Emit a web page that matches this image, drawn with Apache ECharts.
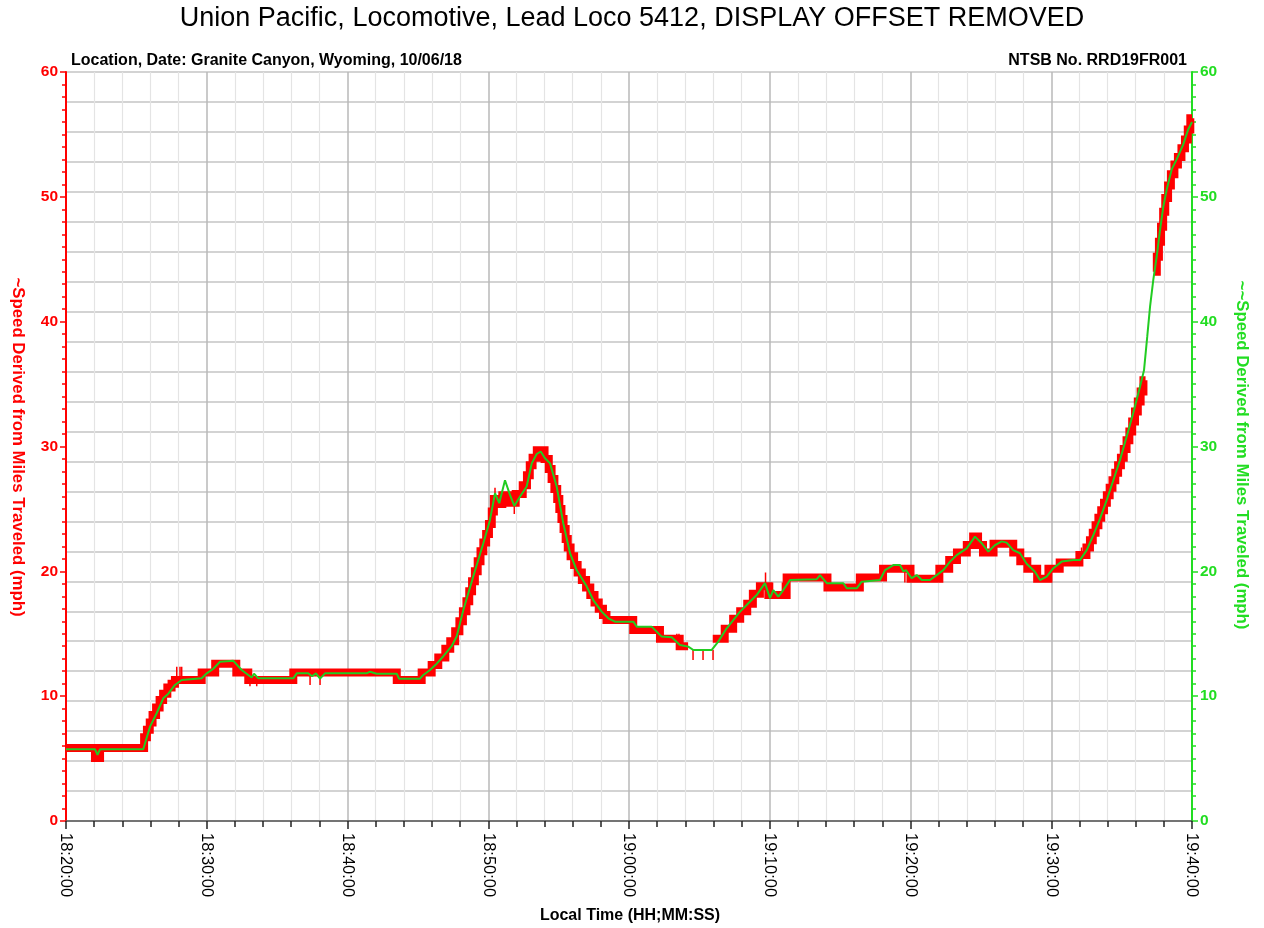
<!DOCTYPE html>
<html><head><meta charset="utf-8">
<script src="https://cdn.jsdelivr.net/npm/echarts@6/dist/echarts.min.js"></script>
<style>html,body{margin:0;padding:0;background:#fff}#c{width:1264px;height:928px}</style>
</head><body><div id="c"></div>
<script>
// Time axis: minutes after 18:20:00
const tickLabels = ['18:20:00','18:30:00','18:40:00','18:50:00','19:00:00','19:10:00','19:20:00','19:30:00','19:40:00'];

// Smoothed speed (green), minutes after 18:20 and mph
const greenT = [0,2.06,2.24,2.42,5.49,5.97,6.44,6.91,7.27,7.74,8.22,9.64,10.0,10.47,10.94,11.89,12.48,12.95,13.19,13.36,13.66,16.15,16.39,17.21,17.48,17.76,18.05,18.4,21.36,21.6,22.07,23.5,23.66,25.15,25.39,25.86,26.34,26.81,27.4,27.76,28.23,28.94,29.65,30.12,30.48,30.78,31.19,31.55,31.85,32.26,32.73,33.09,33.44,33.73,34.03,34.39,34.86,35.33,35.81,36.28,36.99,37.46,38.06,38.53,39.0,40.31,40.55,41.61,42.32,43.03,43.62,44.21,44.57,45.88,46.34,46.94,47.41,47.89,48.48,49.07,49.66,50.02,50.25,50.61,50.96,51.44,53.33,53.57,54.05,55.23,55.47,56.18,56.53,57.83,58.19,58.78,59.25,59.49,59.68,60.08,60.44,60.8,61.39,61.86,62.33,62.81,63.28,63.99,64.58,65.06,65.53,66.0,66.48,66.83,67.3,67.78,68.25,68.84,69.2,69.67,70.15,70.74,71.57,72.04,72.52,72.99,73.46,73.94,74.41,74.88,75.36,75.83,76.31,76.59,76.82,77.02,77.25,77.49,77.73,77.96,78.2,78.56,78.91,79.38,79.73,80.0];
const greenV = [5.75,5.75,5.3,5.75,5.75,7.56,8.63,9.83,10.2,10.9,11.3,11.43,11.83,12.2,12.76,12.83,12.1,11.7,11.5,11.8,11.43,11.43,11.83,11.83,11.6,11.83,11.4,11.83,11.83,11.96,11.8,11.8,11.4,11.4,11.7,12.1,12.6,13.2,14.0,14.8,16.9,19.6,22.25,24.1,26.26,25.46,27.3,26.1,25.24,26.0,26.8,28.65,29.4,29.6,29.06,28.65,26.8,23.85,21.45,20.1,18.8,17.7,16.77,16.24,15.97,15.97,15.57,15.57,14.77,14.72,14.1,13.97,13.7,13.7,14.37,15.44,16.1,16.77,17.44,18.1,19.05,17.85,18.5,17.97,18.5,19.3,19.36,19.7,19.05,19.05,18.64,18.64,19.17,19.3,20.1,20.5,20.5,20.0,20.1,19.45,19.7,19.3,19.3,19.7,20.1,20.78,21.3,21.84,22.78,22.25,21.58,22.1,22.4,22.3,21.7,21.45,20.6,19.97,19.3,19.57,20.25,20.78,20.9,20.9,21.7,22.9,24.2,25.7,27.3,28.9,30.8,32.7,34.8,36.1,38.8,41.2,43.35,45.2,47.36,49.2,50.56,52.2,53.0,54.2,55.4,56.0];

// Raw quantized speed (red), held until the next point; null = no band
const redT = [0,2.06,2.42,5.55,5.75,5.95,6.15,6.4,6.65,6.9,7.2,7.5,7.74,9.64,10.6,12.1,12.95,16.15,23.5,25.27,25.98,26.45,26.95,27.3,27.65,27.95,28.2,28.45,28.65,28.85,29.05,29.25,29.45,29.65,29.85,30.05,30.25,30.4,30.75,31.0,31.4,31.95,32.45,32.75,32.95,33.15,33.45,34.0,34.3,34.5,34.7,34.9,35.05,35.2,35.35,35.5,35.65,35.85,36.1,36.35,36.65,36.95,37.25,37.55,37.85,38.15,38.4,40.3,42.2,43.6,44.2,44.25,45.95,46.8,47.4,47.9,48.4,48.8,49.3,49.9,51.2,54.1,56.4,58.05,60.0,62.05,62.75,63.3,64.0,64.45,64.8,65.15,65.9,67.3,67.8,68.3,69.0,69.8,70.6,72.0,72.5,72.75,72.95,73.15,73.35,73.55,73.75,73.95,74.15,74.35,74.55,74.75,74.95,75.15,75.35,75.55,75.75,75.95,76.15,76.35,76.55,76.7,76.72,77.35,77.5,77.65,77.8,77.95,78.1,78.3,78.5,78.75,79.0,79.25,79.5,79.7,79.88,80.0];
const redV = [5.85,5.05,5.85,6.7,7.3,7.9,8.5,9.1,9.7,10.2,10.7,11.0,11.3,11.9,12.6,11.9,11.3,11.9,11.3,11.9,12.5,13.1,13.8,14.4,15.2,16.0,16.8,17.6,18.4,19.2,20.0,20.8,21.6,22.3,23.0,23.8,24.8,25.8,25.4,26.1,25.5,26.2,26.9,27.7,28.5,29.1,29.7,29.0,28.2,27.4,26.6,25.8,25.0,24.2,23.4,22.6,21.9,21.2,20.5,19.9,19.3,18.7,18.1,17.5,17.0,16.5,16.1,15.3,14.6,14.0,14.0,null,14.6,15.4,16.2,16.8,17.4,18.2,18.8,18.1,19.5,18.7,19.5,20.2,19.4,20.2,20.9,21.5,22.1,22.8,22.1,21.5,22.2,21.5,20.8,20.2,19.4,20.2,20.7,21.3,21.9,22.5,23.1,23.7,24.3,24.9,25.5,26.1,26.7,27.3,27.9,28.5,29.1,29.8,30.5,31.2,32.0,32.8,33.6,34.4,35.3,35.3,null,44.0,45.2,46.4,47.6,48.8,49.9,50.9,51.8,52.6,53.2,53.9,54.6,55.4,56.3,56.3];

// Single-sample red spikes: time, from, to
const spikeT    = [7.87,8.1,8.22,13.07,13.55,17.34,18.05,30.48,31.85,43.4,43.55,44.55,45.26,45.97,49.7,50.2,50.9,59.6,72.15];
const spikeFrom = [11.3,11.3,11.3,11.3,11.3,11.9,11.9,26.0,25.5,14.4,14.4,13.7,13.7,13.7,19.0,18.1,18.1,20.2,21.3];
const spikeTo   = [12.35,12.35,12.35,10.8,10.8,10.9,10.9,26.7,24.6,15.0,15.0,12.9,12.9,12.9,19.9,19.1,19.1,19.1,21.9];

const FONT = '"Liberation Sans", Arial, sans-serif';
const green = greenT.map((t,i)=>[t,greenV[i]]);
const red = redT.map((t,i)=>[t,redV[i]]);
const spikes = [];
spikeT.forEach((t,i)=>{spikes.push([t,spikeFrom[i]],[t,spikeTo[i]],[t,null]);});

const chart = echarts.init(document.getElementById('c'), null, {renderer:'canvas'});
chart.setOption({
  animation:false,
  backgroundColor:'#fff',
  textStyle:{fontFamily:FONT},
  title:[
    {text:'Union Pacific, Locomotive, Lead Loco 5412, DISPLAY OFFSET REMOVED',left:'center',top:0,
     textStyle:{fontSize:27,fontWeight:'normal',color:'#000',fontFamily:FONT}},
    {text:'Location, Date: Granite Canyon, Wyoming, 10/06/18',left:66,top:48,
     textStyle:{fontSize:16,fontWeight:'bold',color:'#000',fontFamily:FONT}},
    {text:'NTSB No. RRD19FR001',right:72,top:48,
     textStyle:{fontSize:16,fontWeight:'bold',color:'#000',fontFamily:FONT}}
  ],
  graphic:[
    {type:'text',x:18,y:447,rotation:-Math.PI/2,
     style:{text:'~Speed Derived from Miles Traveled (mph)',fill:'#ff0000',font:'bold 16.8px '+FONT,align:'center',verticalAlign:'middle'}},
    {type:'text',x:1242,y:455,rotation:-Math.PI/2,
     style:{text:'~~Speed Derived from Miles Traveled (mph)',fill:'#22dd22',font:'bold 16.8px '+FONT,align:'center',verticalAlign:'middle'}},
    {type:'text',x:630,y:916,
     style:{text:'Local Time (HH;MM:SS)',fill:'#000',font:'bold 16px '+FONT,align:'center',verticalAlign:'middle'}}
  ],
  grid:{left:66,right:72,top:72,bottom:107,containLabel:false},
  xAxis:{type:'value',min:0,max:80,interval:10,
    axisLine:{show:true,onZero:false,lineStyle:{color:'#555',width:1.5}},
    axisTick:{show:true,length:8,lineStyle:{color:'#222',width:1.5}},
    minorTick:{show:true,splitNumber:5,length:6,lineStyle:{color:'#222',width:1.5}},
    splitLine:{show:true,lineStyle:{color:'#b9b9b9',width:1.5}},
    minorSplitLine:{show:true,lineStyle:{color:'#e4e4e4',width:1.2}},
    axisLabel:{rotate:-90,fontSize:16.5,color:'#000',margin:12,fontFamily:FONT,
      formatter:v=>tickLabels[Math.round(v/10)]}
  },
  yAxis:[
    {type:'value',position:'left',min:0,max:60,interval:10,
     axisLine:{show:true,lineStyle:{color:'#ff0000',width:2}},
     axisTick:{show:true,length:6,lineStyle:{color:'#ff0000',width:1.5}},
     minorTick:{show:true,splitNumber:10,length:4,lineStyle:{color:'#ff0000',width:1.5}},
     splitLine:{show:false},
     axisLabel:{color:'#ff0000',fontSize:15.5,fontWeight:'bold',margin:8,fontFamily:FONT}},
    {type:'value',position:'right',min:0,max:60,interval:10,
     axisLine:{show:true,lineStyle:{color:'#22dd22',width:2}},
     axisTick:{show:true,length:6,lineStyle:{color:'#22dd22',width:1.5}},
     minorTick:{show:true,splitNumber:10,length:4,lineStyle:{color:'#22dd22',width:1.5}},
     splitLine:{show:false},
     axisLabel:{color:'#22dd22',fontSize:15.5,fontWeight:'bold',margin:8,fontFamily:FONT}},
    {type:'value',position:'left',min:0,max:60,interval:2.4,show:true,
     axisLine:{show:false},axisTick:{show:false},axisLabel:{show:false},
     splitLine:{show:true,lineStyle:{color:'#c4c4c4',width:1.5}}}
  ],
  series:[
    {name:'raw',type:'line',yAxisIndex:0,data:red,step:'end',showSymbol:false,connectNulls:false,
     lineStyle:{color:'#ff0000',width:8,cap:'butt',join:'miter'},z:2,silent:true},
    {name:'spikes',type:'line',yAxisIndex:0,data:spikes,showSymbol:false,connectNulls:false,
     lineStyle:{color:'#ff0000',width:1.5,cap:'butt'},z:2,silent:true},
    {name:'smooth',type:'line',yAxisIndex:1,data:green,showSymbol:false,
     lineStyle:{color:'#22cc22',width:2},z:3,silent:true}
  ]
});
</script></body></html>
